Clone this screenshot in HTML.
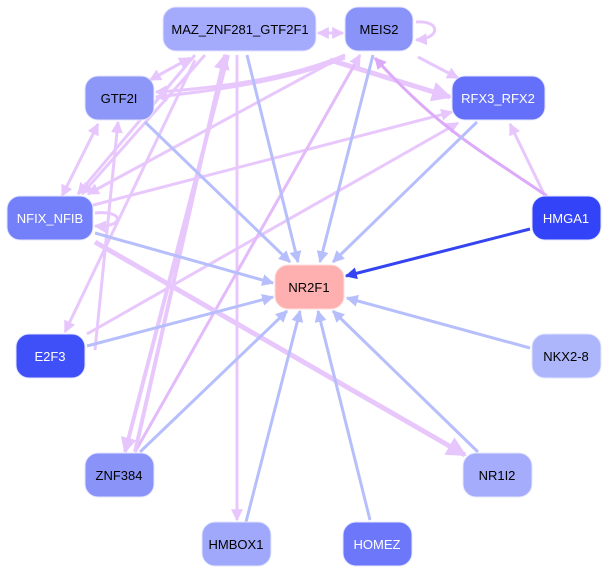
<!DOCTYPE html>
<html><head><meta charset="utf-8"><style>
html,body{margin:0;padding:0;background:#fff;}
svg{display:block;font-family:"Liberation Sans",sans-serif;}
</style></head><body>
<svg width="609" height="575" viewBox="0 0 609 575" xmlns="http://www.w3.org/2000/svg">
<defs>
<marker id="ab" viewBox="0 0 10 10" refX="9" refY="5" markerWidth="4" markerHeight="4" orient="auto-start-reverse"><path d="M0,0L10,5L0,10z" fill="#b6bffb"/></marker>
<marker id="al" viewBox="0 0 10 10" refX="9" refY="5" markerWidth="4" markerHeight="4" orient="auto-start-reverse"><path d="M0,0L10,5L0,10z" fill="#e6c6fc"/></marker>
<marker id="am" viewBox="0 0 10 10" refX="9" refY="5" markerWidth="4" markerHeight="4" orient="auto-start-reverse"><path d="M0,0L10,5L0,10z" fill="#dcaaf8"/></marker>
<marker id="ad" viewBox="0 0 10 10" refX="9" refY="5" markerWidth="4" markerHeight="4" orient="auto-start-reverse"><path d="M0,0L10,5L0,10z" fill="#3344f0"/></marker>
</defs>
<g fill="none" stroke-width="3">
<!-- lavender -->
<g stroke="#e8c8fc" marker-end="url(#al)">
<line x1="318" y1="33" x2="343" y2="33" marker-start="url(#al)"/>
<path d="M416,22 C440,20 442,38 416,40"/>
<line x1="418" y1="57" x2="458" y2="78"/>
<line x1="330" y1="60" x2="450" y2="97" stroke-width="5"/>
<line x1="190" y1="58" x2="150" y2="80" marker-start="url(#al)"/>
<path d="M345,58 C290,80 220,90 156,97"/>
<path d="M345,55 C290,78 220,88 156,92"/>
<line x1="545" y1="196" x2="510" y2="124"/>
<line x1="98" y1="124" x2="62" y2="196" marker-start="url(#al)"/>
<line x1="82" y1="208" x2="452" y2="112"/>
<line x1="87" y1="334" x2="458" y2="123"/>
<line x1="205" y1="55" x2="82" y2="194"/>
<line x1="195" y1="55" x2="78" y2="194"/>
<line x1="345" y1="55" x2="88" y2="194"/>
<line x1="118" y1="122" x2="95" y2="350" marker-end="none" marker-start="url(#al)"/>
<line x1="195" y1="60" x2="65" y2="332"/>
<line x1="228" y1="55" x2="125" y2="452" stroke-width="4"/>
<line x1="237" y1="55" x2="237" y2="520"/>
<line x1="135" y1="452" x2="360" y2="55" stroke="#e3bafa"/>
<line x1="135" y1="452" x2="225" y2="55" stroke-width="4"/>
<line x1="95" y1="242" x2="465" y2="455" stroke-width="5"/>
<path d="M95,213 C125,210 125,228 95,226"/>
</g>
<path d="M547,196 C480,150 440,130 375,58" stroke="#dcaaf8" marker-end="url(#am)"/>
<!-- blue -->
<g stroke="#b6bffb" marker-end="url(#ab)">
<line x1="145" y1="122" x2="290" y2="262"/>
<line x1="247" y1="55" x2="298" y2="262"/>
<line x1="373" y1="55" x2="320" y2="262"/>
<line x1="477" y1="122" x2="333" y2="262"/>
<line x1="95" y1="233" x2="273" y2="283"/>
<line x1="87" y1="346" x2="273" y2="297"/>
<line x1="530" y1="348" x2="347" y2="298"/>
<line x1="478" y1="452" x2="333" y2="311"/>
<line x1="370" y1="520" x2="318" y2="311"/>
<line x1="246" y1="522" x2="300" y2="311"/>
<line x1="140" y1="452" x2="287" y2="311"/>
</g>
<line x1="530" y1="229" x2="346" y2="276" stroke="#3344f0" marker-end="url(#ad)"/>
</g>
<g font-size="13" text-anchor="middle" stroke="#e4e6fe" stroke-width="1">
<rect x="163" y="7" width="153" height="44" rx="13" fill="#a5abfc"/>
<rect x="345" y="7" width="68" height="44" rx="13" fill="#8a94f8"/>
<rect x="85" y="76" width="69" height="44" rx="13" fill="#8c97f8"/>
<rect x="452" y="76" width="93" height="44" rx="13" fill="#6470f9"/>
<rect x="7" y="196" width="86" height="44" rx="13" fill="#7380f9"/>
<rect x="532" y="196" width="69" height="44" rx="13" fill="#3344f8"/>
<rect x="275" y="265" width="69" height="44" rx="13" fill="#feb0b0" stroke="#fdd"/>
<rect x="532" y="334" width="69" height="44" rx="13" fill="#adb5fb"/>
<rect x="16" y="334" width="69" height="44" rx="13" fill="#4050f9"/>
<rect x="85" y="453" width="69" height="44" rx="13" fill="#8a94f8"/>
<rect x="463" y="453" width="69" height="44" rx="13" fill="#a5acfb"/>
<rect x="202" y="522" width="69" height="44" rx="13" fill="#a0a8fb"/>
<rect x="343" y="522" width="69" height="44" rx="13" fill="#6c78f9"/>
</g>
<g font-size="13" text-anchor="middle">
<text x="240" y="34">MAZ_ZNF281_GTF2F1</text>
<text x="379" y="34">MEIS2</text>
<text x="119" y="103">GTF2I</text>
<text x="498" y="103" fill="#fff">RFX3_RFX2</text>
<text x="50" y="223" fill="#fff">NFIX_NFIB</text>
<text x="566" y="223" fill="#fff">HMGA1</text>
<text x="309" y="292">NR2F1</text>
<text x="566" y="361">NKX2-8</text>
<text x="50" y="361" fill="#fff">E2F3</text>
<text x="119" y="480">ZNF384</text>
<text x="497" y="480">NR1I2</text>
<text x="236" y="549">HMBOX1</text>
<text x="377" y="549" fill="#fff">HOMEZ</text>
</g>
</svg>
</body></html>
